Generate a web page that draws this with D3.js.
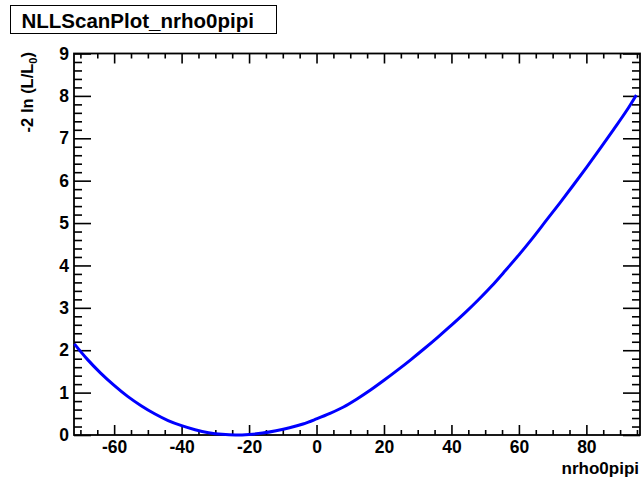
<!DOCTYPE html>
<html>
<head>
<meta charset="utf-8">
<script src="https://cdn.jsdelivr.net/npm/d3@7"></script>
<style>
  html, body { margin: 0; padding: 0; background: #fff; }
  svg { display: block; }
  text { font-family: "Liberation Sans", Arial, Helvetica, sans-serif; font-weight: bold; fill: #000; }
</style>
</head>
<body>
<svg id="chart" width="642" height="479"></svg>
<script>
// Profile likelihood scan of the nrho0pipi parameter
const scanX = [-71.8, -68, -64, -60, -56, -52, -48, -44, -40, -36, -32, -28, -24, -20, -16, -12, -8, -4,
               0, 4, 8, 12, 16, 20, 24, 28, 32, 36, 40, 44, 48, 52, 56, 60, 64, 68, 72, 76, 80, 84, 88, 92, 94.8];
const scanNLL = [2.15, 1.79, 1.46, 1.17, 0.91, 0.69, 0.50, 0.34, 0.22, 0.125, 0.055, 0.015, 0.0, 0.012, 0.045, 0.10, 0.17, 0.26,
                 0.38, 0.51, 0.66, 0.85, 1.06, 1.29, 1.53, 1.78, 2.04, 2.31, 2.59, 2.88, 3.19, 3.52, 3.88, 4.25, 4.64, 5.05, 5.46, 5.88, 6.31, 6.75, 7.20, 7.66, 8.02];

const xMajorTicks = [-60, -40, -20, 0, 20, 40, 60, 80];
const xMinorTicks = [-70, -65, -55, -50, -45, -35, -30, -25, -15, -10, -5, 5, 10, 15, 25, 30, 35, 45, 50, 55, 65, 70, 75, 85, 90, 95];
const yMajorTicks = [0, 1, 2, 3, 4, 5, 6, 7, 8, 9];
const xDomain = [-71.9, 95.9];
const yDomain = [0, 9];

const plotTitle = "NLLScanPlot_nrho0pipi";
const xTitle = "nrho0pipi";

const svg = d3.select("#chart");
const frame = { left: 74, right: 640, top: 53.5, bottom: 435 };

const x = d3.scaleLinear().domain(xDomain).range([frame.left, frame.right]);
const y = d3.scaleLinear().domain(yDomain).range([frame.bottom, frame.top]);

// minor y ticks every 0.2
const yMinorTicks = d3.range(0, 45).map(i => +(i * 0.2).toFixed(1)).filter(v => v % 1 !== 0);

// plain hyphen for negative numbers
const fmt = d => String(d);

function styleAxis(g) {
  g.select(".domain").remove();
  g.selectAll(".tick line").attr("stroke", "#000").attr("stroke-width", 1.6);
  g.selectAll(".tick text").style("font-size", "17.5px");
}

// bottom axis: major with labels, minor without
svg.append("g").attr("transform", `translate(0,${frame.bottom})`)
  .call(d3.axisBottom(x).tickValues(xMajorTicks).tickSizeInner(-10).tickSizeOuter(0).tickPadding(6).tickFormat(fmt))
  .call(styleAxis);
svg.append("g").attr("transform", `translate(0,${frame.bottom})`)
  .call(d3.axisBottom(x).tickValues(xMinorTicks).tickSizeInner(-5).tickSizeOuter(0).tickFormat(""))
  .call(styleAxis);

// top axis ticks
svg.append("g").attr("transform", `translate(0,${frame.top})`)
  .call(d3.axisTop(x).tickValues(xMajorTicks).tickSizeInner(-10).tickSizeOuter(0).tickFormat(""))
  .call(styleAxis);
svg.append("g").attr("transform", `translate(0,${frame.top})`)
  .call(d3.axisTop(x).tickValues(xMinorTicks).tickSizeInner(-5).tickSizeOuter(0).tickFormat(""))
  .call(styleAxis);

// left axis
svg.append("g").attr("transform", `translate(${frame.left},0)`)
  .call(d3.axisLeft(y).tickValues(yMajorTicks).tickSizeInner(-17).tickSizeOuter(0).tickPadding(5).tickFormat(fmt))
  .call(styleAxis);
svg.append("g").attr("transform", `translate(${frame.left},0)`)
  .call(d3.axisLeft(y).tickValues(yMinorTicks).tickSizeInner(-8).tickSizeOuter(0).tickFormat(""))
  .call(styleAxis);

// right axis ticks
svg.append("g").attr("transform", `translate(${frame.right},0)`)
  .call(d3.axisRight(y).tickValues(yMajorTicks).tickSizeInner(-17).tickSizeOuter(0).tickFormat(""))
  .call(styleAxis);
svg.append("g").attr("transform", `translate(${frame.right},0)`)
  .call(d3.axisRight(y).tickValues(yMinorTicks).tickSizeInner(-8).tickSizeOuter(0).tickFormat(""))
  .call(styleAxis);

// frame
svg.append("rect")
  .attr("x", frame.left).attr("y", frame.top)
  .attr("width", frame.right - frame.left).attr("height", frame.bottom - frame.top)
  .attr("fill", "none").attr("stroke", "#000").attr("stroke-width", 1.8);

// scan curve
const line = d3.line()
  .x((d, i) => x(scanX[i]))
  .y(d => y(d))
  .curve(d3.curveMonotoneX);

svg.append("path")
  .datum(scanNLL)
  .attr("d", line)
  .attr("fill", "none")
  .attr("stroke", "#0000ff")
  .attr("stroke-width", 3);

// axis titles
svg.append("text")
  .attr("x", 639).attr("y", 474)
  .attr("text-anchor", "end")
  .style("font-size", "17px")
  .text(xTitle);

const yt = svg.append("text")
  .attr("transform", "translate(33,52) rotate(-90)")
  .attr("text-anchor", "end")
  .style("font-size", "16.5px");
yt.append("tspan").text("-2 ln (L/L");
yt.append("tspan").attr("dy", 4).style("font-size", "11px").text("0");
yt.append("tspan").attr("dy", -4).text(")");

// title box
svg.append("rect")
  .attr("x", 10.5).attr("y", 5.5).attr("width", 266).attr("height", 28)
  .attr("fill", "#fff").attr("stroke", "#000").attr("stroke-width", 1);
svg.append("text")
  .attr("x", 21.5).attr("y", 27.5)
  .style("font-size", "20.5px")
  .text(plotTitle);
</script>
</body>
</html>
